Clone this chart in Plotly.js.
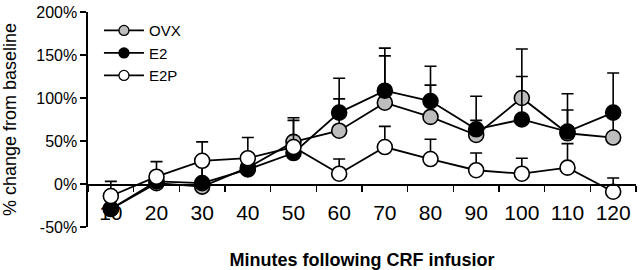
<!DOCTYPE html>
<html>
<head>
<meta charset="utf-8">
<script src="https://cdn.plot.ly/plotly-3.0.1.min.js"></script>
<style>
  html, body { margin: 0; padding: 0; background: #fff; }
  #chart { width: 640px; height: 270px; }
</style>
</head>
<body>
<div id="chart"></div>
<script>
// Categories (minutes following CRF infusion)
const minutes = ['10', '20', '30', '40', '50', '60', '70', '80', '90', '100', '110', '120'];

// Series names
const seriesNames = ['OVX', 'E2', 'E2P'];

// Series values (% change from baseline)
const ovx = [-29, 1, -3, 19, 49, 62, 94.5, 78, 57, 100, 59, 54];
const e2  = [-29, 3, 1, 17, 36, 83, 108.5, 96.5, 63.6, 75, 61, 83];
const e2p = [-14, 8.5, 27, 30, 43, 12, 43, 29, 16, 12, 19, -9];

// Upper error bars
const ovxErr = [10, 10, 28, 12, 28, 37, 63.5, 37, 17, 57, 27, 26];
const e2Err  = [10, 10, 25, 13, 12, 40, 40.5, 40.5, 38.4, 50, 44, 46];
const e2pErr = [17, 17.5, 22, 24, 31, 17, 24, 23, 20, 18, 28, 16];

// Y tick values / labels
const yTickVals = [-50, 0, 50, 100, 150, 200];
const yTickText = ['-50%', '0%', '50%', '100%', '150%', '200%'];

const zeros = minutes.map(() => 0);
const fills = ['#bdbdbd', '#000000', '#ffffff'];

function series(i, y, err) {
  return {
    type: 'scatter',
    mode: 'lines+markers',
    name: seriesNames[i],
    showlegend: false,
    x: minutes,
    y: y,
    line: { color: '#000', width: 1.8 },
    marker: { size: 15, color: fills[i], line: { color: '#000', width: 1.6 } },
    error_y: {
      type: 'data', symmetric: false, array: err, arrayminus: zeros,
      color: '#000', thickness: 1.6, width: 6
    },
    cliponaxis: false
  };
}

function legendEntry(i) {
  return {
    type: 'scatter',
    mode: 'lines+markers',
    name: seriesNames[i],
    x: [null], y: [null],
    showlegend: true,
    line: { color: '#000', width: 1.6 },
    marker: { size: 10, color: fills[i], line: { color: '#000', width: 1.3 } }
  };
}

const data = [
  series(0, ovx, ovxErr),
  series(1, e2, e2Err),
  series(2, e2p, e2pErr),
  legendEntry(0), legendEntry(1), legendEntry(2)
];

const layout = {
  width: 640, height: 270,
  margin: { l: 88, r: 4, t: 12, b: 43 },
  paper_bgcolor: '#fff', plot_bgcolor: '#fff',
  font: { family: '"Liberation Sans", Arial, sans-serif', color: '#000' },
  showlegend: true,
  legend: {
    x: 0.02, y: 0.99, xanchor: 'left', yanchor: 'top',
    bgcolor: 'rgba(0,0,0,0)', borderwidth: 0,
    font: { size: 15 }, itemwidth: 40,
    tracegroupgap: 0
  },
  xaxis: {
    type: 'category',
    anchor: 'free', position: 0.2,
    range: [-0.5, 11.5],
    showline: true, linecolor: '#000', linewidth: 1.6,
    ticks: 'outside', ticklen: 6, tickwidth: 1.6, tickcolor: '#000',
    tickson: 'boundaries',
    showgrid: false, zeroline: false,
    tickfont: { size: 21 },
    ticklabelstandoff: 9,
    title: { text: 'Minutes following CRF infusior', font: { size: 18, weight: 'bold' }, standoff: 32 }
  },
  yaxis: {
    range: [-50, 200],
    tickvals: yTickVals, ticktext: yTickText,
    showline: true, linecolor: '#000', linewidth: 1.6,
    ticks: 'outside', ticklen: 6, tickwidth: 1.6, tickcolor: '#000',
    showgrid: false, zeroline: false,
    tickfont: { size: 16 },
    title: { text: '% change from baseline', font: { size: 18 }, standoff: 16 }
  }
};

Plotly.newPlot('chart', data, layout, { staticPlot: true, displayModeBar: false });
</script>
</body>
</html>
